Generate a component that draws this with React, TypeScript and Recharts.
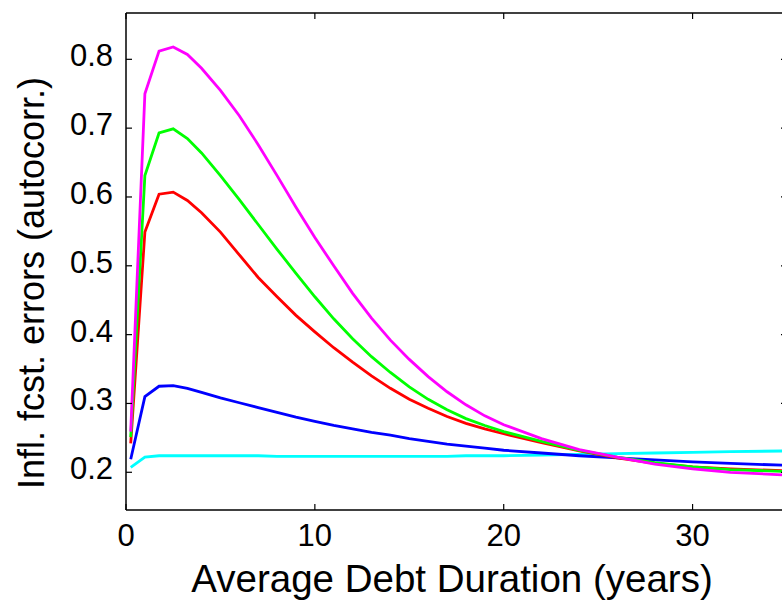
import React from 'react'
import { LineChart, Line, XAxis, YAxis, Label } from 'recharts'

// Average debt duration (years)
const durations = [0.25, 1, 1.75, 2.5, 3.25, 4, 5, 6, 7, 8, 9, 10, 11, 12, 13, 14, 15, 16, 17, 18, 19, 20, 22, 24, 26, 28, 30, 32, 35]

const magentaVals = [0.259, 0.75, 0.812, 0.818, 0.807, 0.787, 0.755, 0.718, 0.676, 0.631, 0.585, 0.541, 0.5, 0.46, 0.424, 0.392, 0.364, 0.339, 0.317, 0.298, 0.282, 0.269, 0.249, 0.233, 0.222, 0.212, 0.205, 0.2, 0.196]
const greenVals = [0.251, 0.631, 0.693, 0.699, 0.685, 0.664, 0.631, 0.596, 0.56, 0.524, 0.489, 0.455, 0.423, 0.394, 0.368, 0.345, 0.324, 0.306, 0.291, 0.278, 0.268, 0.259, 0.245, 0.232, 0.222, 0.214, 0.208, 0.204, 0.201]
const redVals = [0.242, 0.549, 0.604, 0.607, 0.595, 0.577, 0.549, 0.516, 0.483, 0.455, 0.428, 0.404, 0.381, 0.36, 0.34, 0.322, 0.306, 0.293, 0.281, 0.271, 0.263, 0.256, 0.243, 0.231, 0.221, 0.213, 0.208, 0.205, 0.202]
const blueVals = [0.219, 0.31, 0.325, 0.326, 0.322, 0.316, 0.308, 0.301, 0.294, 0.287, 0.28, 0.274, 0.268, 0.263, 0.258, 0.254, 0.249, 0.245, 0.241, 0.238, 0.235, 0.232, 0.228, 0.224, 0.221, 0.218, 0.215, 0.213, 0.21]
const cyanVals = [0.207, 0.222, 0.224, 0.224, 0.224, 0.224, 0.224, 0.224, 0.224, 0.223, 0.223, 0.223, 0.223, 0.223, 0.223, 0.223, 0.223, 0.223, 0.223, 0.224, 0.224, 0.224, 0.225, 0.226, 0.227, 0.228, 0.229, 0.23, 0.231]

const xTicks = [0, 10, 20, 30]
const yTicks = [0.2, 0.3, 0.4, 0.5, 0.6, 0.7, 0.8]

const data = durations.map((d, i) => ({
  d,
  magenta: magentaVals[i],
  green: greenVals[i],
  red: redVals[i],
  blue: blueVals[i],
  cyan: cyanVals[i],
}))

const FONT = 'Liberation Sans, Arial, sans-serif'
const TICK_LEN = 6

function BottomTick(props: any) {
  const { x, y, payload } = props
  return (
    <g>
      <line x1={x} y1={y} x2={x} y2={y - TICK_LEN} stroke="#000" strokeWidth={1.2} />
      <text x={x} y={y + 36} textAnchor="middle" fontFamily={FONT} fontSize={31} fill="#000">
        {payload.value}
      </text>
    </g>
  )
}

function TopTick(props: any) {
  const { x, y } = props
  return <line x1={x} y1={y} x2={x} y2={y + TICK_LEN} stroke="#000" strokeWidth={1.2} />
}

function LeftTick(props: any) {
  const { x, y, payload } = props
  return (
    <g>
      <line x1={x} y1={y} x2={x + TICK_LEN} y2={y} stroke="#000" strokeWidth={1.2} />
      <text x={x - 13} y={y + 7} textAnchor="end" fontFamily={FONT} fontSize={31} fill="#000">
        {payload.value.toFixed(1)}
      </text>
    </g>
  )
}

function RightTick(props: any) {
  const { x, y } = props
  return <line x1={x} y1={y} x2={x - TICK_LEN} y2={y} stroke="#000" strokeWidth={1.2} />
}

export default function App() {
  const yDomain = [0.1452, 0.8673]
  return (
    <div style={{ position: 'absolute', left: 0, top: 0, width: 782, height: 606, overflow: 'hidden', background: '#fff' }}>
      <LineChart width={800} height={606} data={data} margin={{ top: 0, right: 0, bottom: 0, left: 0 }}>
        <XAxis
          dataKey="d"
          type="number"
          domain={[0, 35]}
          ticks={xTicks}
          interval={0}
          height={96}
          tickSize={0}
          tickMargin={0}
          tick={(p: any) => <BottomTick {...p} />}
          axisLine={{ stroke: '#000', strokeWidth: 1.5 }}
        >
          <Label
            content={() => (
              <text x={452} y={592} textAnchor="middle" fontFamily={FONT} fontSize={38.5} fill="#000">
                Average Debt Duration (years)
              </text>
            )}
          />
        </XAxis>
        <XAxis
          xAxisId="top"
          orientation="top"
          dataKey="d"
          type="number"
          domain={[0, 35]}
          ticks={xTicks}
          interval={0}
          height={13}
          tickSize={0}
          tickMargin={0}
          tick={(p: any) => <TopTick {...p} />}
          axisLine={{ stroke: '#000', strokeWidth: 1.5 }}
        />
        <YAxis
          type="number"
          domain={yDomain}
          ticks={yTicks}
          interval={0}
          width={126}
          tickSize={0}
          tickMargin={0}
          tick={(p: any) => <LeftTick {...p} />}
          axisLine={{ stroke: '#000', strokeWidth: 1.5 }}
          allowDataOverflow
        >
          <Label
            content={() => (
              <text
                x={44}
                y={283}
                transform="rotate(-90 44 283)"
                textAnchor="middle"
                fontFamily={FONT}
                fontSize={36}
                fill="#000"
              >
                Infl. fcst. errors (autocorr.)
              </text>
            )}
          />
        </YAxis>
        <YAxis
          yAxisId="right"
          orientation="right"
          type="number"
          domain={yDomain}
          ticks={yTicks}
          interval={0}
          width={13}
          tickSize={0}
          tickMargin={0}
          tick={(p: any) => <RightTick {...p} />}
          axisLine={{ stroke: '#000', strokeWidth: 1.5 }}
          allowDataOverflow
        />
        <Line type="linear" dataKey="cyan" stroke="#00ffff" strokeWidth={2.8} dot={false} isAnimationActive={false} />
        <Line type="linear" dataKey="blue" stroke="#0000ff" strokeWidth={2.8} dot={false} isAnimationActive={false} />
        <Line type="linear" dataKey="red" stroke="#ff0000" strokeWidth={2.8} dot={false} isAnimationActive={false} />
        <Line type="linear" dataKey="green" stroke="#00ff00" strokeWidth={2.8} dot={false} isAnimationActive={false} />
        <Line type="linear" dataKey="magenta" stroke="#ff00ff" strokeWidth={2.8} dot={false} isAnimationActive={false} />
      </LineChart>
    </div>
  )
}
